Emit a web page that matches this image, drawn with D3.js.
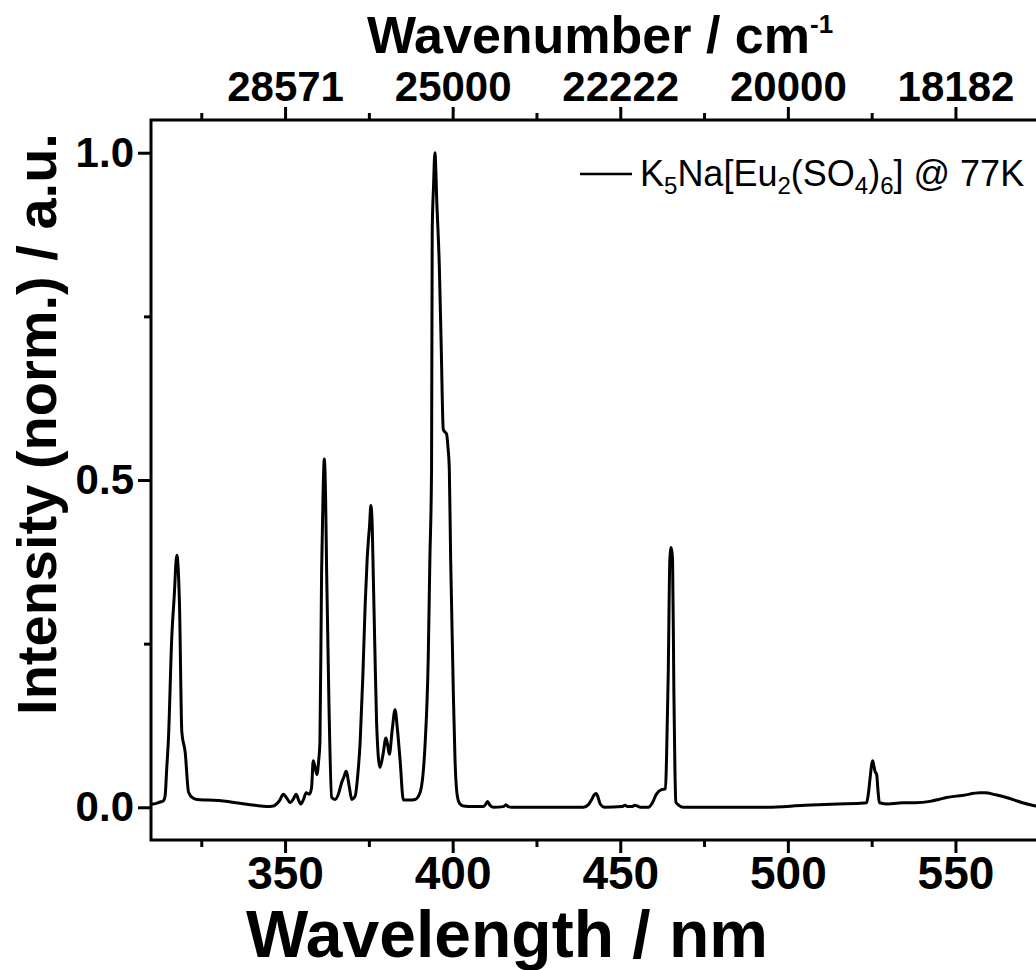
<!DOCTYPE html>
<html>
<head>
<meta charset="utf-8">
<script src="https://cdn.jsdelivr.net/npm/d3@7"></script>
<style>
  body { margin: 0; background: #fff; }
  svg { font-family: "Liberation Sans", Arial, sans-serif; }
</style>
</head>
<body>
<div id="chart"></div>
<script>
// spectrum (wavelength in nm, normalised intensity)
const wavelength = [310, 310.7, 312.7, 313.7, 314.2, 314.7, 315.2, 316.2, 316.9, 317.7, 318.5, 319.2, 320.2, 321.2, 322.5, 323.7,
  327, 331.6, 336.6, 341, 344.5, 346.5, 348.3, 349.5, 350.5, 351.5, 352.4, 353.3, 354.1, 354.7, 355.5, 356.3, 357.3,
  357.9, 358.4, 358.9, 359.5, 360.0, 360.4, 360.9, 361.3, 361.7, 362.1, 362.4, 363.1, 363.9, 364.9, 365.9, 366.9,
  367.6, 368.2, 369.2, 369.9, 370.9, 371.7, 372.4, 373.2, 373.9, 374.5, 374.8, 375.2, 375.6, 376.0, 376.3, 376.8,
  377.3, 378.3, 379.2, 380.1, 380.6, 381.1, 382.0, 382.8, 383.5, 384.3, 385.3, 387, 388.8, 390.3, 391.8, 392.7,
  393.2, 393.7, 393.9, 394.3, 394.7, 395.3, 396.0, 396.6, 397.2, 397.6, 398.2, 398.6, 399.0, 399.4, 400.2, 400.7,
  401.4, 402.2, 403.2, 406, 409.1, 409.8, 410.4, 411.1, 412.1, 415.2, 415.9, 416.6, 417.6, 430, 439, 440.5, 441.5,
  442.2, 442.8, 443.4, 444.0, 445.4, 450.5, 451.4, 452.3, 453.5, 454.3, 455.1, 456, 458.4, 459.5, 460.8, 462.3,
  463.5, 463.8, 464.3, 464.8, 465.2, 465.6, 466.0, 466.3, 466.6, 467.5, 468.8, 480, 493.7, 505, 515, 521.5, 523.5,
  524.0, 524.5, 525.0, 525.3, 525.6, 526.0, 526.5, 526.9, 527.3, 530, 532.4, 534.4, 538, 542.4, 545, 547.3, 552,
  557.3, 558.8, 562, 565.2, 570, 574, 578];
const intensity = [0.005, 0.005, 0.008, 0.01, 0.017, 0.06, 0.104, 0.26, 0.32, 0.385, 0.31, 0.115, 0.084, 0.023, 0.014, 0.012,
  0.011, 0.0096, 0.006, 0.003, 0.001, 0.002, 0.01, 0.02, 0.014, 0.007, 0.012, 0.02, 0.01, 0.005, 0.012, 0.022, 0.02,
  0.03, 0.071, 0.062, 0.05, 0.07, 0.10, 0.36, 0.47, 0.532, 0.47, 0.36, 0.155, 0.015, 0.012, 0.02, 0.038,
  0.047, 0.055, 0.03, 0.012, 0.017, 0.05, 0.10, 0.2, 0.31, 0.38, 0.404, 0.43, 0.461, 0.43, 0.358, 0.24,
  0.13, 0.061, 0.08, 0.106, 0.095, 0.081, 0.12, 0.149, 0.12, 0.073, 0.011, 0.011, 0.012, 0.023, 0.099, 0.226,
  0.379, 0.516, 0.88, 0.95, 1.0, 0.92, 0.83, 0.7, 0.577, 0.574, 0.57, 0.55, 0.516, 0.379, 0.175, 0.073,
  0.017, 0.005, 0.002, 0.001, 0.001, 0.004, 0.009, 0.003, 0.0, 0.001, 0.004, 0.001, 0.0, 0.0, 0.0, 0.004, 0.012,
  0.019, 0.021, 0.015, 0.005, 0.0, 0.001, 0.003, 0.001, 0.001, 0.003, 0.002, 0.0, 0.0, 0.006, 0.02, 0.027,
  0.028, 0.073, 0.2, 0.379, 0.397, 0.38, 0.175, 0.06, 0.008, 0.003, 0.0, 0.0, 0.0, 0.003, 0.005, 0.006, 0.007,
  0.02, 0.043, 0.065, 0.071, 0.065, 0.055, 0.05, 0.025, 0.007, 0.005, 0.006, 0.007, 0.007, 0.009, 0.012, 0.015, 0.018,
  0.022, 0.022, 0.019, 0.015, 0.007, 0.002, 0.0];

const xTicks = [350, 400, 450, 500, 550];
const xMinor = [325, 375, 425, 475, 525, 575];
const yTicks = [0.0, 0.5, 1.0];
const yMinor = [0.25, 0.75];

const margin = { top: 120, right: 0, bottom: 130, left: 151 };
const totalWidth = 1036, totalHeight = 970;
const height = totalHeight - margin.top - margin.bottom;
const xDomain = [310, 580];

const svgRoot = d3.select("#chart").append("svg")
    .attr("width", totalWidth)
    .attr("height", totalHeight);

const xScale = d3.scaleLinear().domain(xDomain).range([0, 905]);
const yScale = d3.scaleLinear().domain([-0.05, 1.05]).range([height, 0]);
const width = xScale(xDomain[1]);

const svg = svgRoot.append("g")
    .attr("transform", `translate(${margin.left},${margin.top})`);

// --- axes ---
function styleAxis(size) {
    return g => {
        g.select(".domain").remove();
        g.selectAll("line").attr("stroke", "#000").attr("stroke-width", 3);
        g.selectAll("text").attr("fill", "#000").attr("font-weight", "bold").attr("font-size", size);
    };
}

svg.append("g")
    .attr("transform", `translate(0,${height})`)
    .call(d3.axisBottom(xScale).tickValues(xTicks).tickSize(13).tickPadding(3).tickFormat(d3.format("d")))
    .call(styleAxis(46));
svg.append("g")
    .attr("transform", `translate(0,${height})`)
    .call(d3.axisBottom(xScale).tickValues(xMinor).tickSize(7).tickFormat(""))
    .call(styleAxis(46));

svg.append("g")
    .call(d3.axisTop(xScale).tickValues(xTicks).tickSize(13).tickPadding(6)
        .tickFormat(d => Math.round(1e7 / d)))
    .call(styleAxis(42));
svg.append("g")
    .call(d3.axisTop(xScale).tickValues(xMinor).tickSize(7).tickFormat(""))
    .call(styleAxis(42));

svg.append("g")
    .call(d3.axisLeft(yScale).tickValues(yTicks).tickSize(13).tickPadding(4).tickFormat(d3.format(".1f")))
    .call(styleAxis(42));
svg.append("g")
    .call(d3.axisLeft(yScale).tickValues(yMinor).tickSize(7).tickFormat(""))
    .call(styleAxis(42));

// frame
svg.append("rect")
    .attr("x", 0).attr("y", 0)
    .attr("width", width).attr("height", height)
    .attr("fill", "none").attr("stroke", "#000").attr("stroke-width", 3);

// --- spectrum ---
const points = wavelength.map((w, i) => [w, intensity[i]]);
svg.append("path")
    .datum(points)
    .attr("fill", "none")
    .attr("stroke", "#000")
    .attr("stroke-width", 3)
    .attr("stroke-linejoin", "round")
    .attr("d", d3.line()
        .x(d => xScale(d[0]))
        .y(d => yScale(d[1]))
        .curve(d3.curveMonotoneX));

// --- titles ---
svgRoot.append("text")
    .attr("x", 507).attr("y", 957)
    .attr("text-anchor", "middle")
    .attr("font-weight", "bold").attr("font-size", 66)
    .text("Wavelength / nm");

const topTitle = svgRoot.append("text")
    .attr("x", 600).attr("y", 53)
    .attr("text-anchor", "middle")
    .attr("font-weight", "bold").attr("font-size", 52);
topTitle.append("tspan").text("Wavenumber / cm");
topTitle.append("tspan").attr("font-size", 26).attr("dy", -20).text("-1");

svgRoot.append("text")
    .attr("transform", "translate(56,424) rotate(-90)")
    .attr("text-anchor", "middle")
    .attr("font-weight", "bold").attr("font-size", 56)
    .text("Intensity (norm.) / a.u.");

// --- legend ---
const legend = svgRoot.append("g").attr("transform", "translate(580,174)");
legend.append("line")
    .attr("x1", 0).attr("x2", 52)
    .attr("stroke", "#000").attr("stroke-width", 2.5);
const lt = legend.append("text")
    .attr("x", 60).attr("y", 12)
    .attr("font-size", 36);
const sub = (t) => lt.append("tspan").attr("font-size", 24).attr("dy", 8).text(t);
const main = (t) => lt.append("tspan").attr("font-size", 36).attr("dy", -8).text(t);
lt.append("tspan").text("K");
sub("5"); main("Na[Eu");
sub("2"); main("(SO");
sub("4"); main(")");
sub("6"); main("] @ 77K");
</script>
</body>
</html>
